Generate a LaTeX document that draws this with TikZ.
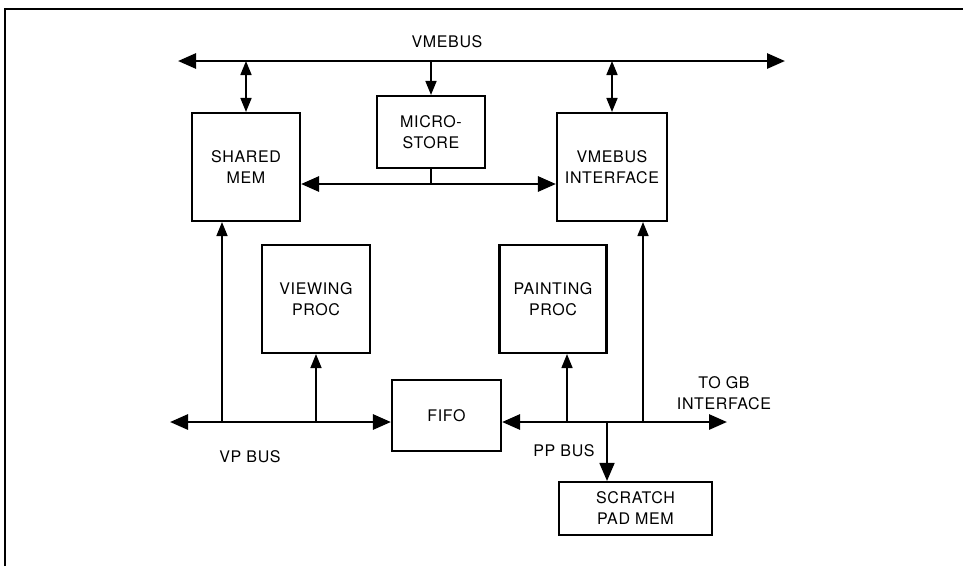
\documentclass[tikz,border=0pt]{standalone}
\usepackage{fontspec}
\setmainfont[LetterSpace=4]{TeX Gyre Heros}
\usepackage{tikz}
\usetikzlibrary{arrows.meta}

\begin{document}
\begin{tikzpicture}[x=1pt,y=-1pt,font=\fontsize{16}{21}\selectfont,
    box/.style={draw,line width=2.1pt,inner sep=0pt,align=center},
    bus/.style={line width=2.8pt,arrows={Triangle[length=18pt,width=15pt]-Triangle[length=18pt,width=15pt]}},
    link/.style={line width=1.7pt},
    >={Triangle[length=14pt,width=11pt]}]
    \useasboundingbox (0,0) rectangle (963,566);
    \draw[line width=1.6pt] (5,566) -- (5,9) -- (963,9);
    % boxes
    \node[box,minimum width=108pt,minimum height=108pt] (shmem) at (246,167) {SHARED\\MEM};
    \node[box,minimum width=108pt,minimum height=72pt] (ustore) at (431,132) {MICRO-\\STORE};
    \node[box,minimum width=110pt,minimum height=108pt] (vmeif) at (612,167) {VMEBUS\\INTERFACE};
    \node[box,minimum width=108pt,minimum height=108pt] (viewproc) at (316,299) {VIEWING\\PROC};
    \node[box,minimum width=107pt,minimum height=108pt] (paintproc) at (553,299) {PAINTING\\PROC};
    \node[box,minimum width=109pt,minimum height=71pt] (fifo) at (446.5,415.5) {FIFO};
    \node[box,minimum width=153pt,minimum height=53pt] (scratch) at (635.5,508.5) {SCRATCH\\PAD MEM};
    % vmebus
    \coordinate (vmel) at (178,61);
    \coordinate (vmer) at (785,61);
    \draw[bus] (vmel) -- (vmer);
    \node (vmelab) at (447,42) {VMEBUS};
    \draw[link,<->] (shmem.north |- vmel) -- (shmem.north);
    \draw[link,->] (ustore.north |- vmel) -- (ustore.north);
    \draw[link,<->] (vmeif.north |- vmel) -- (vmeif.north);
    % internal bus
    \coordinate (ib) at (ustore.south |- 0,184);
    \draw[bus] (shmem.east |- ib) -- (vmeif.west |- ib);
    \draw[link] (ustore.south) -- (ib);
    % vp bus
    \coordinate (vpl) at (170,422);
    \coordinate (vpa) at (222,422);
    \draw[bus] (vpl) -- (fifo.west |- vpl);
    \draw[link,->] (vpa) -- (vpa |- shmem.south);
    \draw[link,->] (viewproc.south |- vpl) -- (viewproc.south);
    \node (vplab) at (250,457) {VP BUS};
    % pp bus
    \coordinate (ppr) at (727,422);
    \coordinate (ppa) at (567,422);
    \coordinate (ppb) at (643,422);
    \coordinate (ppc) at (607,422);
    \draw[bus] (fifo.east |- ppr) -- (ppr);
    \draw[link,->] (ppa) -- (ppa |- paintproc.south);
    \draw[link,->] (ppb) -- (ppb |- vmeif.south);
    \draw[link,-{Triangle[length=18pt,width=15pt]}] (ppc) -- (ppc |- scratch.north);
    \node (pplab) at (564,451) {PP BUS};
    \node[align=center] (gblab) at (724,393) {TO GB\\INTERFACE};
\end{tikzpicture}
\end{document}
